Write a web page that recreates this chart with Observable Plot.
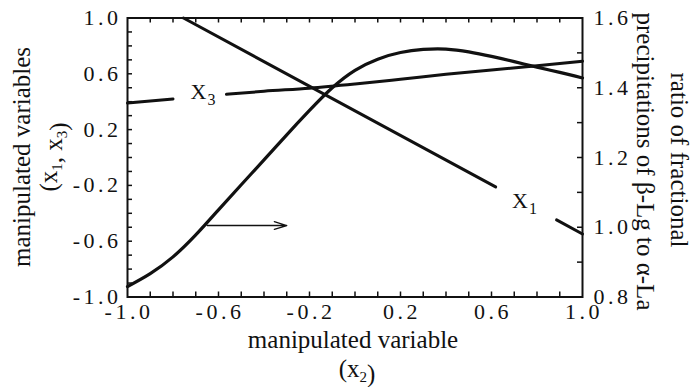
<!DOCTYPE html>
<html>
<head>
<meta charset="utf-8">
<script src="https://cdn.jsdelivr.net/npm/d3@7"></script>
<script src="https://cdn.jsdelivr.net/npm/@observablehq/plot@0.6"></script>
<style>
  html, body { margin: 0; padding: 0; background: #fff; }
  #chart { width: 692px; height: 387px; }
  g[aria-label$="tick label"] text { letter-spacing: 3.5px; }
</style>
</head>
<body>
<div id="chart"></div>
<script>
// Manipulated variable x2 (horizontal axis, coded units)
const x2Grid = [-1.0, -0.9, -0.8, -0.7, -0.6, -0.5, -0.4, -0.3, -0.2, -0.1, 0.0,
                0.1, 0.2, 0.3, 0.4, 0.5, 0.6, 0.7, 0.8, 0.9, 1.0];
// Ratio of fractional precipitations of β-Lg to α-La (right axis)
const ratio = [0.83, 0.867, 0.915, 0.978, 1.05, 1.122, 1.193, 1.265, 1.335, 1.40, 1.45,
               1.482, 1.501, 1.51, 1.511, 1.503, 1.49, 1.475, 1.459, 1.444, 1.428];

// x3 against x2; segment 0/1 leaves room for the curve label
const x3At = [-1.0, -0.8, -0.565, -0.4, -0.2, 0.0, 0.2, 0.4, 0.6, 0.8, 1.0];
const x3Val = [0.39, 0.42, 0.453, 0.475, 0.497, 0.527, 0.561, 0.596, 0.628, 0.657, 0.69];
const x3Seg = [0, 0, 1, 1, 1, 1, 1, 1, 1, 1, 1];

// x1 against x2 (straight line, broken around its label)
const x1At = [-0.754, 0.618, 0.886, 1.0];
const x1Val = [1.0, -0.211, -0.447, -0.548];
const x1Seg = [0, 0, 1, 1];

// Curve labels
const labelName = ["X", "X"];
const labelSub = ["3", "1"];
const labelX = [-0.688, 0.725];
const labelY = [0.473, -0.311];

// Arrow pointing the ratio curve to its axis
const arrowFrom = -0.65;
const arrowTo = -0.30;
const arrowRatio = 1.005;

// Tick labels
const ticksBottom = [-1.0, -0.6, -0.2, 0.2, 0.6, 1.0];
const ticksLeft = [-1.0, -0.6, -0.2, 0.2, 0.6, 1.0];
const ticksRight = [0.8, 1.0, 1.2, 1.4, 1.6];

// right axis (0.8–1.6) shares the frame with the left axis (-1–1)
const toLeft = r => (r - 1.2) / 0.4;
const fromLeft = y => y * 0.4 + 1.2;

const W = 692, H = 387;
const mL = 127, mR = 110, mT = 17.5, mB = 90.5;
const frameW = W - mL - mR, frameH = H - mT - mB;
const tickLen = 5;

const minorX = d3.range(-9, 10).map(i => i / 10);
const minorLeft = d3.range(-9, 10).map(i => i / 10);
const minorRight = d3.range(9, 16).map(i => toLeft(i / 10));

const serif = "Liberation Serif, Times New Roman, serif";

const ratioRows = x2Grid.map((x, i) => ({x, y: toLeft(ratio[i])}));
const x3Rows = x3At.map((x, i) => ({x, y: x3Val[i], s: x3Seg[i]}));
const x1Rows = x1At.map((x, i) => ({x, y: x1Val[i], s: x1Seg[i]}));
const labelRows = labelName.map((n, i) => ({n, sub: labelSub[i], x: labelX[i], y: labelY[i]}));

const svg = Plot.plot({
  width: W,
  height: H,
  marginLeft: mL,
  marginRight: mR,
  marginTop: mT,
  marginBottom: mB,
  style: {fontFamily: serif, fontSize: "22px", color: "#111", background: "#fff", overflow: "visible"},
  x: {domain: [-1, 1]},
  y: {domain: [-1, 1]},
  marks: [
    // inward minor ticks on all four sides
    Plot.tickX(minorX, {x: d => d, insetTop: frameH - tickLen, stroke: "#111", strokeWidth: 1.5}),
    Plot.tickX(minorX, {x: d => d, insetBottom: frameH - tickLen, stroke: "#111", strokeWidth: 1.5}),
    Plot.tickY(minorLeft, {y: d => d, insetRight: frameW - tickLen, stroke: "#111", strokeWidth: 1.5}),
    Plot.tickY(minorRight, {y: d => d, insetLeft: frameW - tickLen, stroke: "#111", strokeWidth: 1.5}),
    Plot.axisX({ticks: ticksBottom, tickFormat: d => d.toFixed(1), tickSize: 0, tickPadding: 6, dx: 1.5, label: null}),
    Plot.axisY({ticks: ticksLeft, tickFormat: d => d.toFixed(1), tickSize: 0, tickPadding: 6, label: null, anchor: "left"}),
    Plot.axisY({ticks: ticksRight.map(toLeft), tickFormat: d => fromLeft(d).toFixed(1), tickSize: 0, tickPadding: 11, label: null, anchor: "right"}),
    Plot.line(ratioRows, {x: "x", y: "y", curve: "natural", stroke: "#111", strokeWidth: 3.2}),
    Plot.line(x3Rows, {x: "x", y: "y", z: "s", curve: "monotone-x", stroke: "#111", strokeWidth: 3}),
    Plot.line(x1Rows, {x: "x", y: "y", z: "s", stroke: "#111", strokeWidth: 3}),
    Plot.arrow([0], {x1: () => arrowFrom, x2: () => arrowTo, y1: () => toLeft(arrowRatio), y2: () => toLeft(arrowRatio),
      stroke: "#111", strokeWidth: 1.3, headLength: 15, headAngle: 34}),
    Plot.text(labelRows, {x: "x", y: "y", text: "n", fontSize: 22, fontFamily: serif, fill: "#111"}),
    Plot.text(labelRows, {x: "x", y: "y", text: "sub", dx: 13, dy: 8, fontSize: 16, fontFamily: serif, fill: "#111"}),
    Plot.frame({stroke: "#111", strokeWidth: 2})
  ]
});

// Axis titles, with subscripts set as tspans
function title(x, y, angle, parts) {
  const t = d3.select(svg).append("text")
    .attr("transform", `translate(${x},${y}) rotate(${angle})`)
    .attr("text-anchor", "middle")
    .attr("font-family", serif)
    .attr("font-size", 25)
    .attr("fill", "#111");
  parts.forEach(p => {
    if (typeof p === "string") {
      t.append("tspan").text(p);
    } else {
      t.append("tspan").attr("font-size", 15).attr("dy", 5).text(p.sub);
      t.append("tspan").attr("dy", -5).text("");
    }
  });
}

title(353, 348, 0, ["manipulated variable"]);
title(357, 377, 0, ["(x", {sub: "2"}, ")"]);
title(30, 157, -90, ["manipulated variables"]);
title(57, 157, -90, ["(x", {sub: "1"}, ", x", {sub: "3"}, ")"]);
title(671, 160, 90, ["ratio of fractional"]);
title(637, 161.5, 90, ["precipitations of β-Lg to α-La"]);

document.getElementById("chart").appendChild(svg);
</script>
</body>
</html>
